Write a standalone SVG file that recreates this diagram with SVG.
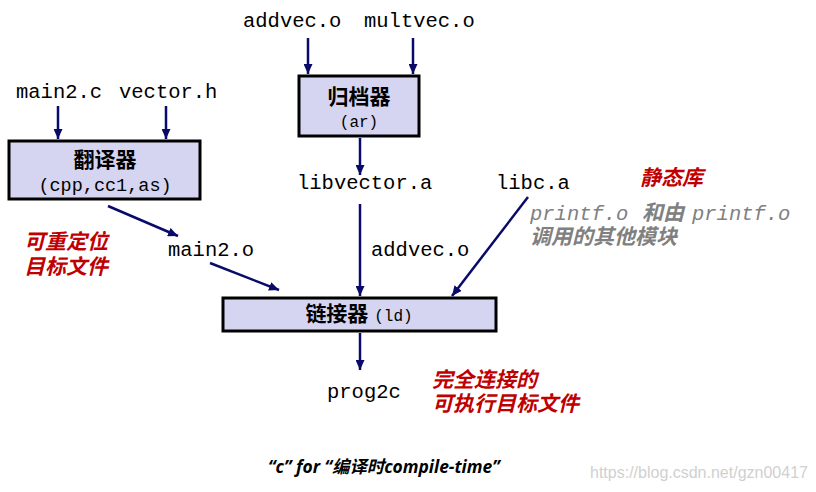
<svg xmlns="http://www.w3.org/2000/svg" width="816" height="492" viewBox="0 0 816 492">
<defs>
<marker id="ah" markerUnits="userSpaceOnUse" markerWidth="10" markerHeight="9" refX="10" refY="4.5" orient="auto">
<path d="M0,0 L10,4.5 L0,9 z" fill="#0a0a6b"/>
</marker>
<style>
.box{fill:#d5d5f2;stroke:#000;stroke-width:3}
.mono{font-family:"Liberation Mono","Courier New",monospace;font-size:20.5px;fill:#000}
.mono2{font-family:"Liberation Mono","Courier New",monospace;fill:#000}
.cjk{font-family:"Liberation Sans","Noto Sans CJK SC",sans-serif;font-weight:bold;fill:#000;font-size:21px}
.red{font-family:"Liberation Sans","Noto Sans CJK SC",sans-serif;font-weight:bold;font-style:italic;fill:#c00000;font-size:21px}
.gray{font-family:"Liberation Sans","Noto Sans CJK SC",sans-serif;font-weight:bold;font-style:italic;fill:#808080;font-size:21px}
.graymono{font-family:"Liberation Mono","Courier New",monospace;font-style:italic;fill:#808080;font-size:20.5px}
.conn line{stroke:#0a0a6b;stroke-width:2.5;marker-end:url(#ah)}
</style>
</defs>
<rect width="816" height="492" fill="#fff"/>

<g id="translator">
<rect class="box" x="9" y="141" width="191" height="58"/>
<text class="cjk" x="105" y="167" text-anchor="middle">翻译器</text>
<text class="mono2" x="105" y="191" text-anchor="middle" font-size="18.5">(cpp,cc1,as)</text>
</g>

<g id="archiver">
<rect class="box" x="299" y="76" width="120" height="60"/>
<text class="cjk" x="359" y="104" text-anchor="middle">归档器</text>
<text class="mono2" x="359" y="127" text-anchor="middle" font-size="16">(ar)</text>
</g>

<g id="linker">
<rect class="box" x="223" y="298" width="273" height="33"/>
<text x="359" y="321" text-anchor="middle"><tspan class="cjk">链接器 </tspan><tspan class="mono2" font-size="16">(ld)</tspan></text>
</g>

<g id="main2c"><text class="mono" x="16" y="98">main2.c</text></g>
<g id="vectorh"><text class="mono" x="119" y="98">vector.h</text></g>
<g id="addvec-in"><text class="mono" x="243" y="27">addvec.o</text></g>
<g id="multvec-in"><text class="mono" x="364" y="27">multvec.o</text></g>
<g id="libvector"><text class="mono" x="297" y="189">libvector.a</text></g>
<g id="libc"><text class="mono" x="496" y="189">libc.a</text></g>
<g id="main2o"><text class="mono" x="168" y="256">main2.o</text></g>
<g id="addvec-out"><text class="mono" x="371" y="256">addvec.o</text></g>
<g id="prog2c"><text class="mono" x="327" y="398">prog2c</text></g>

<g id="notes">
<text class="red" x="640" y="185">静态库</text>
<text class="red" x="24" y="249">可重定位</text>
<text class="red" x="24" y="274">目标文件</text>
<text class="red" x="432" y="387">完全连接的</text>
<text class="red" x="432" y="411">可执行目标文件</text>
<text class="graymono" x="530" y="220">printf.o</text>
<text class="gray" x="642" y="220">和由</text>
<text class="graymono" x="692" y="220">printf.o</text>
<text class="gray" x="530" y="244">调用的其他模块</text>
<text x="268" y="473" font-family="'Open Sans','Noto Sans CJK SC',sans-serif" font-weight="bold" font-style="italic" font-size="17.4" fill="#000">“c” for “编译时compile-time”</text>
<text x="590" y="478" font-family="'Liberation Sans',sans-serif" font-size="16" fill="#d0d0d0">https://blog.csdn.net/gzn00417</text>
</g>

<g class="conn" id="connectors">
<line x1="58" y1="106" x2="58" y2="139"/>
<line x1="166" y1="106" x2="166" y2="139"/>
<line x1="308" y1="38" x2="308" y2="74"/>
<line x1="413" y1="38" x2="413" y2="74"/>
<line x1="360" y1="138" x2="360" y2="175"/>
<line x1="360" y1="204" x2="360" y2="296"/>
<line x1="108" y1="206" x2="178" y2="236"/>
<line x1="210" y1="263" x2="279" y2="290"/>
<line x1="528" y1="197" x2="452" y2="296"/>
<line x1="360" y1="333" x2="360" y2="370"/>
</g>
</svg>
